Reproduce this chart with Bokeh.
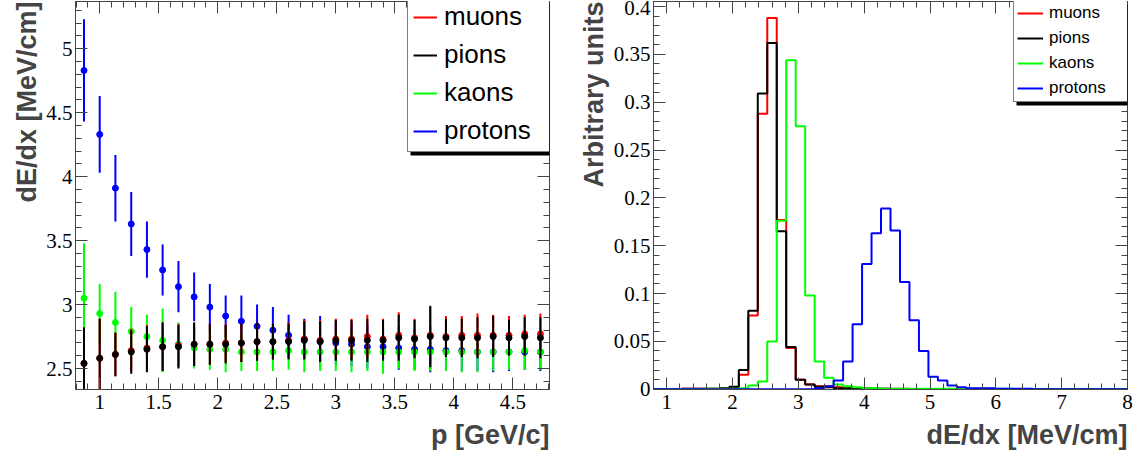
import numpy as np
from bokeh.plotting import figure
from bokeh.models import (LinearAxis, SingleIntervalTicker, FixedTicker, Legend, LegendItem,
                          Title, CustomJSTickFormatter, Range1d, BoxAnnotation)
from bokeh.layouts import row
from bokeh.embed import file_html
from bokeh.resources import INLINE

# ---------------- left panel data: mean dE/dx vs momentum ----------------
momentum = [0.867, 1.0, 1.133, 1.267, 1.4, 1.533, 1.667, 1.8, 1.933, 2.067,
            2.2, 2.333, 2.467, 2.6, 2.733, 2.867, 3.0, 3.133, 3.267, 3.4,
            3.533, 3.667, 3.8, 3.933, 4.067, 4.2, 4.333, 4.467, 4.6, 4.733]

proton_mean = [4.83, 4.33, 3.91, 3.63, 3.43, 3.27, 3.14, 3.06, 2.98, 2.91,
               2.87, 2.83, 2.80, 2.76, 2.73, 2.71, 2.70, 2.69, 2.67, 2.67,
               2.66, 2.65, 2.65, 2.64, 2.64, 2.63, 2.63, 2.63, 2.63, 2.63]
proton_err = [0.40, 0.30, 0.26, 0.25, 0.22, 0.20, 0.20, 0.19, 0.18, 0.16,
              0.20, 0.17, 0.18, 0.16, 0.16, 0.20, 0.17, 0.17, 0.17, 0.16,
              0.17, 0.16, 0.18, 0.16, 0.16, 0.15, 0.16, 0.15, 0.14, 0.15]

kaon_mean = [3.05, 2.93, 2.86, 2.79, 2.75, 2.72, 2.69, 2.66, 2.65, 2.65,
             2.63, 2.63, 2.63, 2.64, 2.63, 2.63, 2.63, 2.63, 2.63, 2.63,
             2.63, 2.63, 2.63, 2.63, 2.63, 2.63, 2.63, 2.63, 2.64, 2.63]
kaon_err = [0.43, 0.23, 0.24, 0.19, 0.17, 0.25, 0.17, 0.16, 0.16, 0.18,
            0.15, 0.15, 0.15, 0.15, 0.16, 0.15, 0.15, 0.16, 0.15, 0.17,
            0.13, 0.15, 0.15, 0.15, 0.16, 0.16, 0.15, 0.14, 0.15, 0.14]

pion_mean = [2.54, 2.58, 2.61, 2.63, 2.65, 2.67, 2.67, 2.69, 2.69, 2.69,
             2.70, 2.71, 2.71, 2.71, 2.72, 2.71, 2.72, 2.72, 2.72, 2.72,
             2.74, 2.73, 2.75, 2.74, 2.74, 2.74, 2.75, 2.74, 2.75, 2.74]
pion_err = [0.28, 0.31, 0.17, 0.17, 0.18, 0.19, 0.17, 0.17, 0.16, 0.15,
            0.15, 0.15, 0.14, 0.14, 0.15, 0.16, 0.16, 0.16, 0.17, 0.16,
            0.18, 0.15, 0.24, 0.15, 0.15, 0.16, 0.16, 0.14, 0.15, 0.16]

muon_mean = [2.54, 2.58, 2.61, 2.64, 2.66, 2.67, 2.68, 2.69, 2.69, 2.70,
             2.70, 2.71, 2.71, 2.72, 2.73, 2.72, 2.73, 2.73, 2.75, 2.73,
             2.76, 2.74, 2.76, 2.75, 2.76, 2.76, 2.76, 2.76, 2.77, 2.77]
muon_err = [0.28, 0.31, 0.17, 0.17, 0.18, 0.19, 0.17, 0.17, 0.16, 0.15,
            0.15, 0.15, 0.14, 0.14, 0.15, 0.16, 0.16, 0.16, 0.17, 0.16,
            0.18, 0.15, 0.22, 0.16, 0.15, 0.17, 0.16, 0.15, 0.15, 0.16]

# ---------------- right panel data: dE/dx distributions ----------------
hist_min, hist_max, n_bins = 0.8, 8.0, 50

muon_hist = [0, 0, 0, 0.0005, 0.0005, 0.0005, 0.0005, 0.001, 0.002, 0.015,
             0.077, 0.288, 0.388, 0.177, 0.043, 0.010, 0.005, 0.003, 0.003, 0.002,
             0.001, 0.001, 0.001, 0.0005, 0.0005, 0.0005, 0.0005, 0, 0, 0,
             0, 0, 0, 0, 0, 0, 0, 0, 0, 0,
             0, 0, 0, 0, 0, 0, 0, 0, 0, 0]
pion_hist = [0, 0, 0, 0.0005, 0.0005, 0.0005, 0.0005, 0.001, 0.0025, 0.020,
             0.082, 0.309, 0.362, 0.165, 0.044, 0.010, 0.005, 0.0025, 0.002, 0.001,
             0.001, 0.001, 0.0005, 0.0005, 0.0005, 0, 0, 0, 0, 0,
             0, 0, 0, 0, 0, 0, 0, 0, 0, 0,
             0, 0, 0, 0, 0, 0, 0, 0, 0, 0]
kaon_hist = [0, 0, 0, 0, 0, 0.0005, 0.0005, 0.0005, 0.0005, 0.001,
             0.004, 0.008, 0.050, 0.176, 0.344, 0.275, 0.098, 0.029, 0.012, 0.005,
             0.003, 0.002, 0.001, 0.001, 0.0005, 0.0005, 0.0005, 0.0005, 0.0005, 0.0005,
             0.0005, 0.0005, 0.0005, 0.0005, 0.0005, 0.0005, 0.0005, 0.0005, 0, 0,
             0, 0, 0, 0, 0, 0, 0, 0, 0, 0]
proton_hist = [0, 0, 0, 0, 0, 0, 0, 0, 0, 0,
               0, 0, 0, 0, 0, 0, 0, 0.001, 0.003, 0.009,
               0.029, 0.068, 0.131, 0.163, 0.189, 0.166, 0.112, 0.072, 0.040, 0.013,
               0.009, 0.004, 0.002, 0.001, 0.001, 0.001, 0.0005, 0.0005, 0.0005, 0.0005,
               0, 0, 0, 0, 0, 0, 0, 0, 0, 0]

RED, BLACK, GREEN, BLUE = "#ff0000", "#000000", "#00ff00", "#0000ff"
AX = "#444444"
TICK_FONT = "Liberation Serif"
LABEL_FONT = "Liberation Sans"
FRAME_W, FRAME_H = 474, 388

fmt_code = "return String(parseFloat(tick.toFixed(4)));"


def style_axis(ax, standoff):
    ax.major_tick_in = 12
    ax.major_tick_out = 0
    ax.minor_tick_in = 6
    ax.minor_tick_out = 0
    ax.axis_line_color = AX
    ax.major_tick_line_color = AX
    ax.minor_tick_line_color = AX
    ax.major_label_text_font = TICK_FONT
    ax.major_label_text_font_size = "21px"
    ax.major_label_text_color = "black"
    ax.major_label_standoff = standoff
    ax.formatter = CustomJSTickFormatter(code=fmt_code)


def mirror_axes(p, side, rng, interval):
    """Label-free tick marks on the top / right frame edges (ROOT style)."""
    lo, hi = rng
    majors = [round(v, 6) for v in np.arange(np.ceil(lo / interval) * interval, hi + 1e-9, interval)]
    step = interval / 5
    minors = [round(v, 6) for v in np.arange(np.ceil(lo / step) * step, hi + 1e-9, step)]
    for ticks, length in [(minors, 6), (majors, 12)]:
        ax = LinearAxis(ticker=FixedTicker(ticks=[], minor_ticks=ticks))
        ax.major_tick_in = 0
        ax.major_tick_out = 0
        ax.minor_tick_in = length
        ax.minor_tick_out = 0
        ax.major_label_standoff = 0
        ax.axis_line_color = AX
        ax.minor_tick_line_color = AX
        p.add_layout(ax, side)


def make_fig(xr, yr, xint, yint, min_left, min_right):
    p = figure(frame_width=FRAME_W, frame_height=FRAME_H, x_range=Range1d(*xr), y_range=Range1d(*yr),
               output_backend="svg", toolbar_location=None, title_location=None,
               min_border_left=min_left, min_border_right=min_right,
               min_border_top=1, min_border_bottom=10,
               background_fill_color="white", border_fill_color="white")
    p.xgrid.visible = False
    p.ygrid.visible = False
    p.outline_line_color = AX
    p.xaxis.ticker = SingleIntervalTicker(interval=xint, num_minor_ticks=5)
    p.yaxis.ticker = SingleIntervalTicker(interval=yint, num_minor_ticks=5)
    style_axis(p.xaxis[0], 5)
    style_axis(p.yaxis[0], 3)
    mirror_axes(p, "above", xr, xint)
    mirror_axes(p, "right", yr, yint)
    return p


def add_titles(p, xlabel, ylabel):
    ty = Title(text=ylabel, align="right", text_font=LABEL_FONT, text_font_style="bold",
               text_font_size="27px", standoff=4)
    p.add_layout(ty, "left")
    tx = Title(text=xlabel, align="right", text_font=LABEL_FONT, text_font_style="bold",
               text_font_size="27px", standoff=13)
    p.add_layout(tx, "below")


def add_legend(p, items, loc, font_size, glyph_w, row_h, spacing, pad, standoff, label_w):
    n = len(items)
    w = 2 * pad + glyph_w + standoff + label_w
    h = 2 * pad + n * row_h + (n - 1) * spacing
    sh = 3
    shadow = BoxAnnotation(left=loc[0] + sh, right=loc[0] + w + sh,
                           bottom=loc[1] - sh, top=loc[1] + h - sh,
                           left_units="screen", right_units="screen",
                           bottom_units="screen", top_units="screen",
                           fill_color="black", fill_alpha=1.0, line_alpha=0.0)
    p.add_layout(shadow)
    leg = Legend(items=[LegendItem(label=l, renderers=[r]) for l, r in items],
                 location=loc, background_fill_color="white", background_fill_alpha=1.0,
                 label_text_color="black", label_text_font=LABEL_FONT,
                 label_text_font_size=font_size, glyph_width=glyph_w, glyph_height=row_h,
                 label_height=row_h, spacing=spacing, padding=pad, margin=0,
                 label_standoff=standoff, label_width=label_w,
                 border_line_color="black", border_line_width=1)
    p.add_layout(leg)


# ---------------- left figure ----------------
p1 = make_fig((0.795, 4.81), (2.336, 5.369), 0.5, 0.5, 75, 24)
add_titles(p1, "p [GeV/c]", "dE/dx [MeV/cm]")

renders = {}
for name, mean, err, col in [("protons", proton_mean, proton_err, BLUE),
                             ("kaons", kaon_mean, kaon_err, GREEN),
                             ("muons", muon_mean, muon_err, RED),
                             ("pions", pion_mean, pion_err, BLACK)]:
    lo = [m - e for m, e in zip(mean, err)]
    hi = [m + e for m, e in zip(mean, err)]
    r = p1.segment(x0=momentum, y0=lo, x1=momentum, y1=hi, line_color=col, line_width=2)
    p1.scatter(x=momentum, y=mean, size=6, marker="circle", fill_color=col, line_color=col)
    renders[name] = r

add_legend(p1, [("muons", renders["muons"]), ("pions", renders["pions"]),
                ("kaons", renders["kaons"]), ("protons", renders["protons"])],
           loc=(332, FRAME_H - 151), font_size="26px", glyph_w=24, row_h=30, spacing=7,
           pad=5, standoff=7, label_w=100)

# ---------------- right figure ----------------
p2 = make_fig((0.8, 8.0), (-0.0003, 0.4053), 1, 0.05, 80, 13)
add_titles(p2, "dE/dx [MeV/cm]", "Arbitrary units")

edges = np.linspace(hist_min, hist_max, n_bins + 1)
hrend = {}
for name, vals, col in [("muons", muon_hist, RED), ("pions", pion_hist, BLACK),
                        ("kaons", kaon_hist, GREEN), ("protons", proton_hist, BLUE)]:
    yv = list(vals) + [vals[-1]]
    r = p2.step(x=edges, y=yv, mode="after", line_color=col, line_width=2)
    hrend[name] = r

add_legend(p2, [("muons", hrend["muons"]), ("pions", hrend["pions"]),
                ("kaons", hrend["kaons"]), ("protons", hrend["protons"])],
           loc=(360, FRAME_H - 101), font_size="17px", glyph_w=26, row_h=20, spacing=5,
           pad=3, standoff=6, label_w=150)

layout = row(p1, p2)
open("out.html", "w").write(file_html(layout, INLINE))
